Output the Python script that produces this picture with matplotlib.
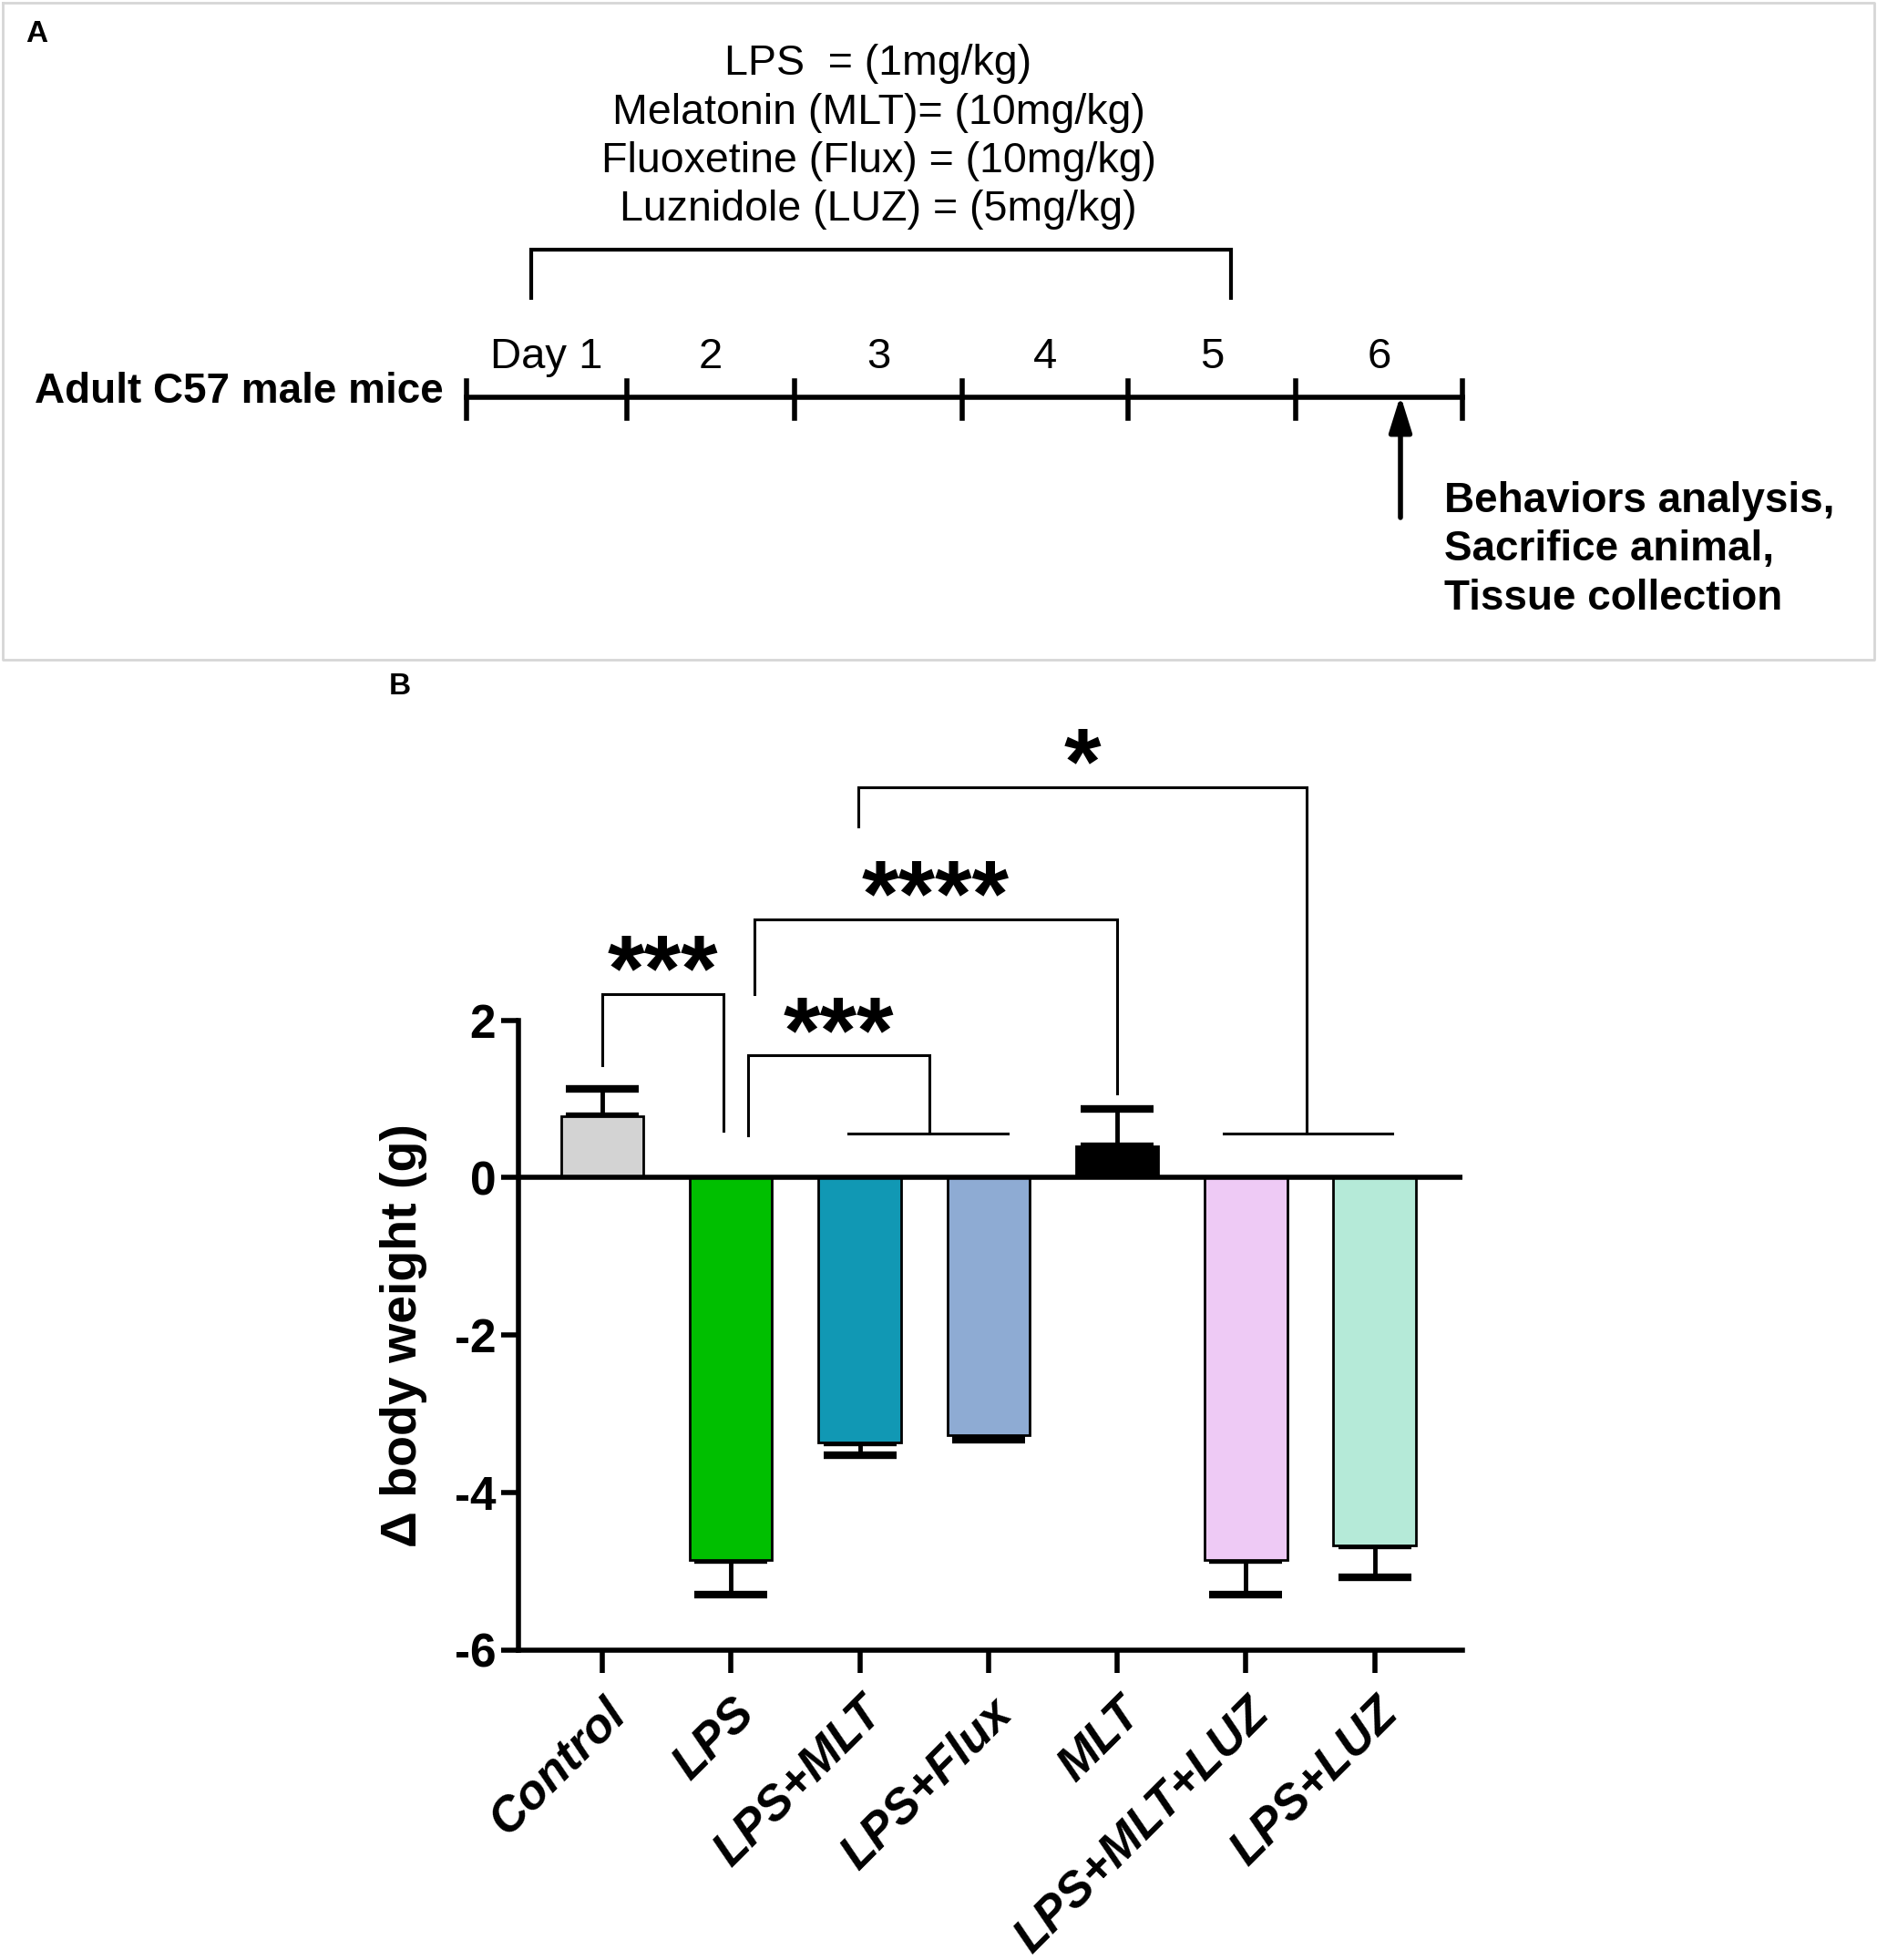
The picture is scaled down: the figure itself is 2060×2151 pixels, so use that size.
import matplotlib.pyplot as plt
import numpy as np

plt.rcParams['font.family'] = ['Liberation Sans', 'DejaVu Sans']

# ---------------- Data ----------------
groups = ['Control', 'LPS', 'LPS+MLT', 'LPS+Flux', 'MLT', 'LPS+MLT+LUZ', 'LPS+LUZ']
means = [0.78, -4.86, -3.37, -3.27, 0.40, -4.86, -4.67]
errors = [0.35, 0.44, 0.16, 0.06, 0.47, 0.44, 0.41]
colors = ['#d3d3d3', '#00bf00', '#1198b4', '#8eabd3', '#000000', '#eecaf5', '#b5ead8']

# significance brackets: (x_left, x_right, y_top, y_left_end, y_right_end, label)
brackets = [
    (0.0, 0.94, 2.33, 1.43, 0.59, '***'),
    (1.13, 2.54, 1.55, 0.54, 0.56, '***'),
    (1.18, 4.0, 3.28, 2.33, 1.07, '****'),
    (1.99, 5.47, 4.96, 4.46, 0.56, '*'),
]
# horizontal group lines under the bracket ends
group_lines = [(1.91, 3.15, 0.56), (4.83, 6.14, 0.56)]

# timeline schematic
doses = ['LPS  = (1mg/kg)', 'Melatonin (MLT)= (10mg/kg)',
         'Fluoxetine (Flux) = (10mg/kg)', 'Luznidole (LUZ) = (5mg/kg)']
day_labels = ['Day 1', '2', '3', '4', '5', '6']
day_ticks = [512, 688, 872, 1056, 1238, 1422, 1605]
outcome = ['Behaviors analysis,', 'Sacrifice animal,', 'Tissue collection']

fig = plt.figure(figsize=(20.6, 21.51), dpi=100)

# ---------------- Panel A (pixel coordinates) ----------------
axA = fig.add_axes([0, 0, 1, 1])
axA.set_xlim(0, 2060)
axA.set_ylim(2151, 0)
axA.axis('off')

axA.plot([3, 2057, 2057, 3, 3], [3, 3, 724, 724, 3], color='#d6d6d6', lw=2)
axA.text(28, 38, 'A', fontsize=24, fontweight='bold', ha='left', va='center')

for i, line in enumerate(doses):
    axA.text(964, 70 + i * 53.5, line, fontsize=33.5, ha='center', va='center')

axA.plot([583, 583, 1351, 1351], [329, 274, 274, 329], color='black', lw=3,
         solid_capstyle='butt', solid_joinstyle='miter')

tl_y = 436
axA.plot([day_ticks[0], day_ticks[-1]], [tl_y, tl_y], color='black', lw=4)
for xt in day_ticks:
    axA.plot([xt, xt], [418, 459], color='black', lw=4)
for i, lab in enumerate(day_labels):
    axA.text((day_ticks[i] + day_ticks[i + 1]) / 2, 392, lab, fontsize=34,
             ha='center', va='center')

axA.text(487, 430, 'Adult C57 male mice', fontsize=33, fontweight='bold',
         ha='right', va='center')

axA.annotate('', xy=(1537, tl_y - 2), xytext=(1537, 568),
             arrowprops=dict(arrowstyle='-|>,head_length=2.4,head_width=0.75',
                             color='black', lw=4, shrinkA=0, shrinkB=0))
for i, line in enumerate(outcome):
    axA.text(1585, 550 + i * 53.5, line, fontsize=33, fontweight='bold',
             ha='left', va='center')

axA.text(439, 753, 'B', fontsize=24, fontweight='bold', ha='center', va='center')

# ---------------- Panel B ----------------
ax = fig.add_axes([0.2763, 0.1582, 0.5027, 0.482])
x = np.arange(len(groups))

lower = [e if m < 0 else 0 for m, e in zip(means, errors)]
upper = [e if m >= 0 else 0 for m, e in zip(means, errors)]
ax.errorbar(x, means, yerr=[lower, upper], fmt='none', ecolor='black',
            elinewidth=3.5, capsize=29, capthick=6, zorder=1)
ax.bar(x, means, width=0.64, color=colors, edgecolor='black', linewidth=2, zorder=2)

ax.axhline(0, color='black', lw=4, zorder=3)

for x1, x2, ytop, yl, yr, lab in brackets:
    ax.plot([x1, x1, x2, x2], [yl, ytop, ytop, yr], color='black', lw=2.2,
            solid_joinstyle='miter', clip_on=False)
    ax.text((x1 + x2) / 2, ytop + 0.22, lab, fontsize=75, fontweight='bold',
            ha='center', va='center', clip_on=False)
for xa, xb, yg in group_lines:
    ax.plot([xa, xb], [yg, yg], color='black', lw=2.2)

ax.set_xlim(-0.65, 6.68)
ax.set_ylim(-6, 6)
yticks = [-6, -4, -2, 0, 2]
ax.set_yticks(yticks)
ax.set_yticklabels([str(v) for v in yticks], fontweight='bold')
ax.spines['left'].set_bounds(-6, 2)
ax.spines['top'].set_visible(False)
ax.spines['right'].set_visible(False)
ax.spines['left'].set_linewidth(4)
ax.spines['bottom'].set_linewidth(4)
ax.tick_params(axis='y', length=14, width=4, labelsize=37, pad=4)
ax.tick_params(axis='x', length=18, width=4, labelsize=38, pad=14)
ax.set_xticks(x)
ax.set_xticklabels(groups, rotation=45, ha='right', rotation_mode='anchor',
                   fontweight='bold', fontstyle='italic')
ax.set_ylabel('\u0394 body weight (g)', fontsize=40, fontweight='bold')
ax.yaxis.set_label_coords(-0.097, 0.333)

fig.savefig('out.png', dpi=100)
